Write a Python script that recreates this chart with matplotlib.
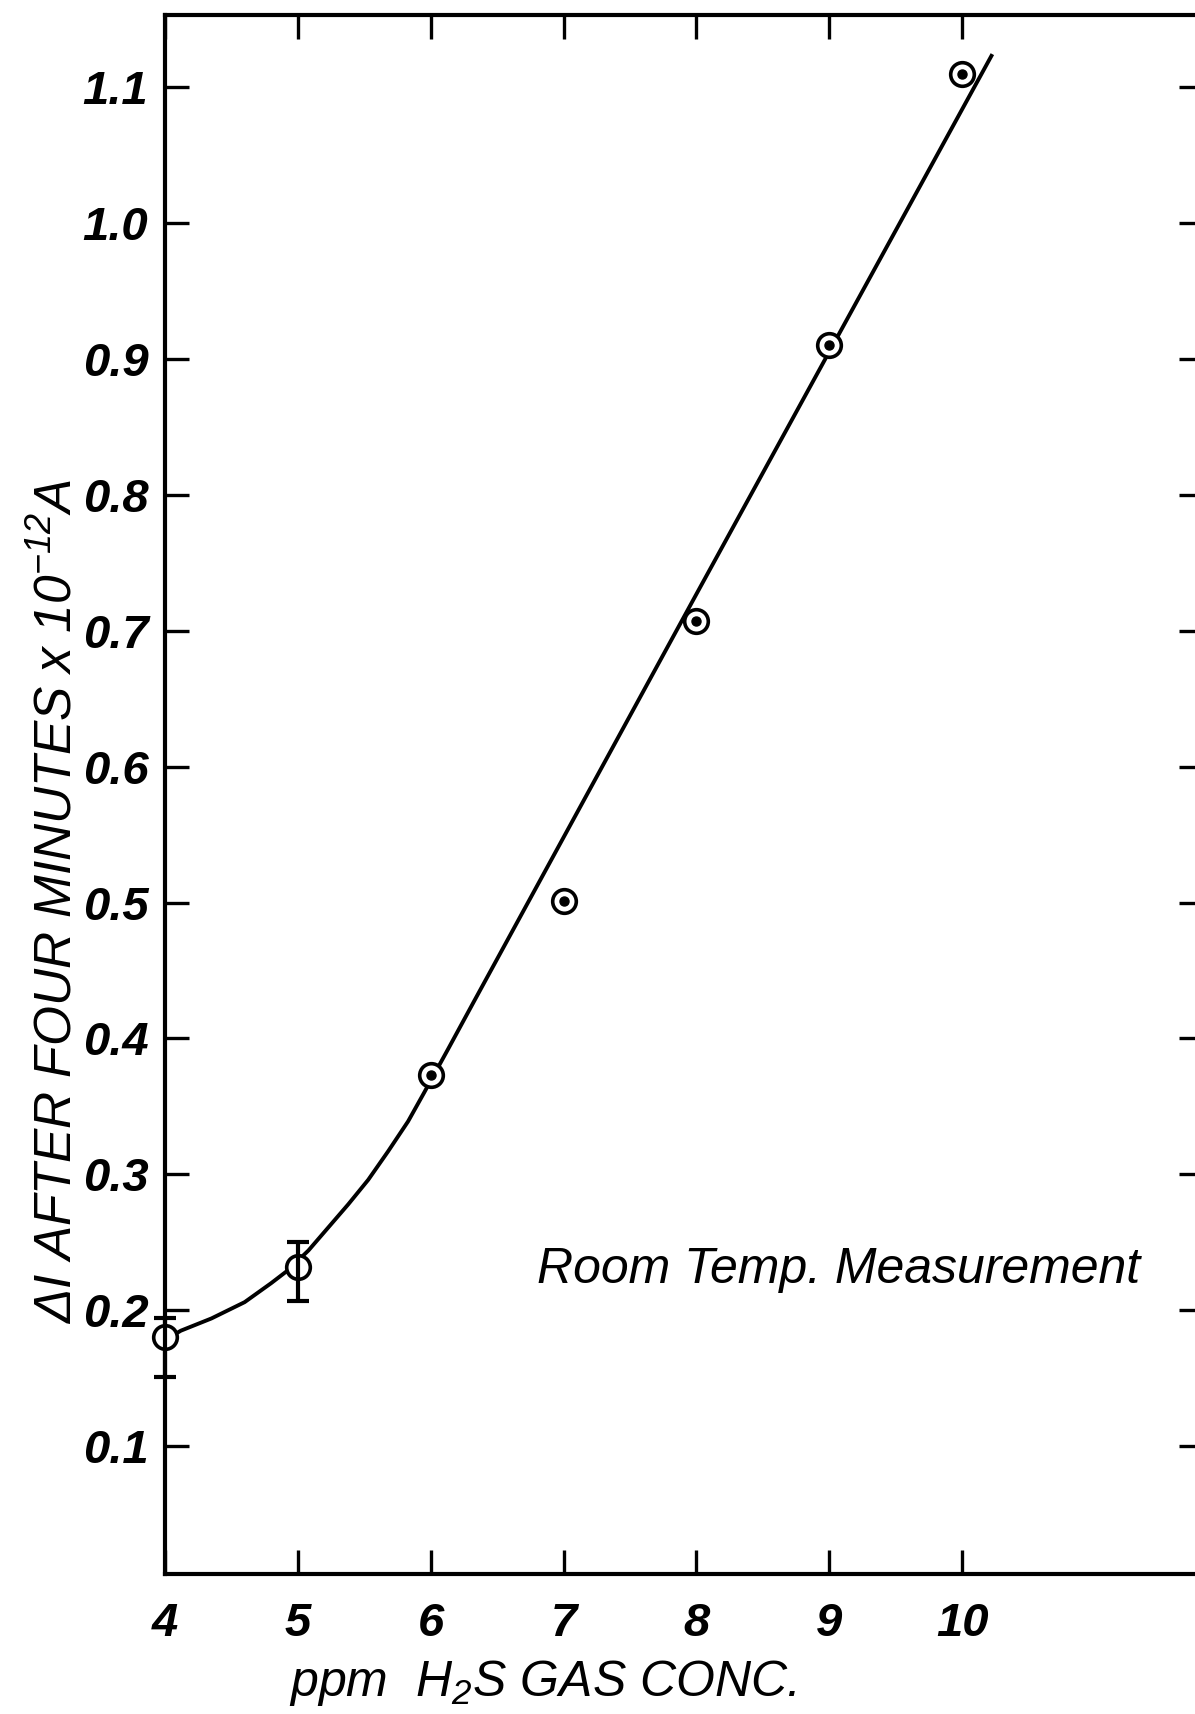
import matplotlib
matplotlib.use("Agg")
import matplotlib.pyplot as plt
from matplotlib import font_manager
import numpy as np

# measured points (ppm H2S, delta I x 1e-12 A)
conc = [4, 5, 6, 7, 8, 9, 10]
delta_i = [0.180, 0.232, 0.373, 0.501, 0.707, 0.910, 1.110]

# error bars only on the two low points
err_x = [4, 5]
err_y = [0.180, 0.232]
err_lo = [0.029, 0.025]
err_hi = [0.014, 0.018]

# hand drawn fit curve
fit_x = [4.00, 4.12, 4.35, 4.60, 4.80, 4.92, 5.08, 5.23, 5.38, 5.53, 5.68, 5.83,
         5.95, 6.13, 6.33, 8.00, 10.22]
fit_y = [0.178, 0.185, 0.194, 0.206, 0.220, 0.229, 0.244, 0.261, 0.278, 0.296, 0.317,
         0.339, 0.360, 0.392, 0.428, 0.727, 1.123]

x_ticks = [4, 5, 6, 7, 8, 9, 10]
y_ticks = [0.1, 0.2, 0.3, 0.4, 0.5, 0.6, 0.7, 0.8, 0.9, 1.0, 1.1]

# pick a narrow font if there is one
FONT = "DejaVu Sans"
for name in ["Liberation Sans Narrow", "Liberation Sans"]:
    try:
        font_manager.findfont(font_manager.FontProperties(family=name), fallback_to_default=False)
        FONT = name
        break
    except Exception:
        pass

plt.rcParams["font.family"] = [FONT, "DejaVu Sans"]
plt.rcParams["font.style"] = "italic"
plt.rcParams["mathtext.fontset"] = "custom"
plt.rcParams["mathtext.rm"] = FONT + ":italic"
plt.rcParams["mathtext.it"] = FONT + ":italic"

fig = plt.figure(figsize=(11.95, 17.14), dpi=100)
ax = fig.add_axes([0.138, 0.0817, 0.864, 0.9095])

ax.plot(fit_x, fit_y, color="black", lw=2.8, zorder=2, solid_joinstyle="round")
# open circles (white inside so the curve stops at the rim)
ax.plot(conc, delta_i, linestyle="none", marker="o", ms=17, mfc="white",
        mec="black", mew=2.6, zorder=3, clip_on=False)
ax.errorbar(err_x, err_y, yerr=[err_lo, err_hi], fmt="none", ecolor="black",
            elinewidth=3, capsize=8, capthick=3, zorder=4, clip_on=False)
ax.plot(conc[2:], delta_i[2:], linestyle="none", marker="o", ms=6.5,
        color="black", zorder=5)

ax.set_xlim(4, 11.77)
ax.set_ylim(0.006, 1.153)
ax.set_xticks(x_ticks)
ax.set_xticklabels([str(v) for v in x_ticks], fontweight="bold")
ax.set_yticks(y_ticks)
ax.set_yticklabels(["%.1f" % v for v in y_ticks], fontweight="bold")

ax.spines["right"].set_visible(False)
for s in ["left", "top", "bottom"]:
    ax.spines[s].set_linewidth(3)
ax.tick_params(axis="both", direction="in", length=17, width=2.4,
               top=True, right=True, labelsize=34)
ax.tick_params(axis="y", pad=12)
ax.tick_params(axis="x", pad=20)
for t in ax.yaxis.get_ticklines()[1::2]:
    t.set_markersize(13)

ax.text(6.80, 0.23, "Room Temp. Measurement", fontsize=36, ha="left", va="center")

fig.text(0.048, 0.474, r"ΔI AFTER FOUR MINUTES x 10$^{-12}$A", rotation=90,
         fontsize=37, ha="center", va="center")
fig.text(0.454, 0.018, r"ppm  H$_2$S GAS CONC.", fontsize=36, ha="center", va="center")

fig.savefig("out.png", dpi=100)
